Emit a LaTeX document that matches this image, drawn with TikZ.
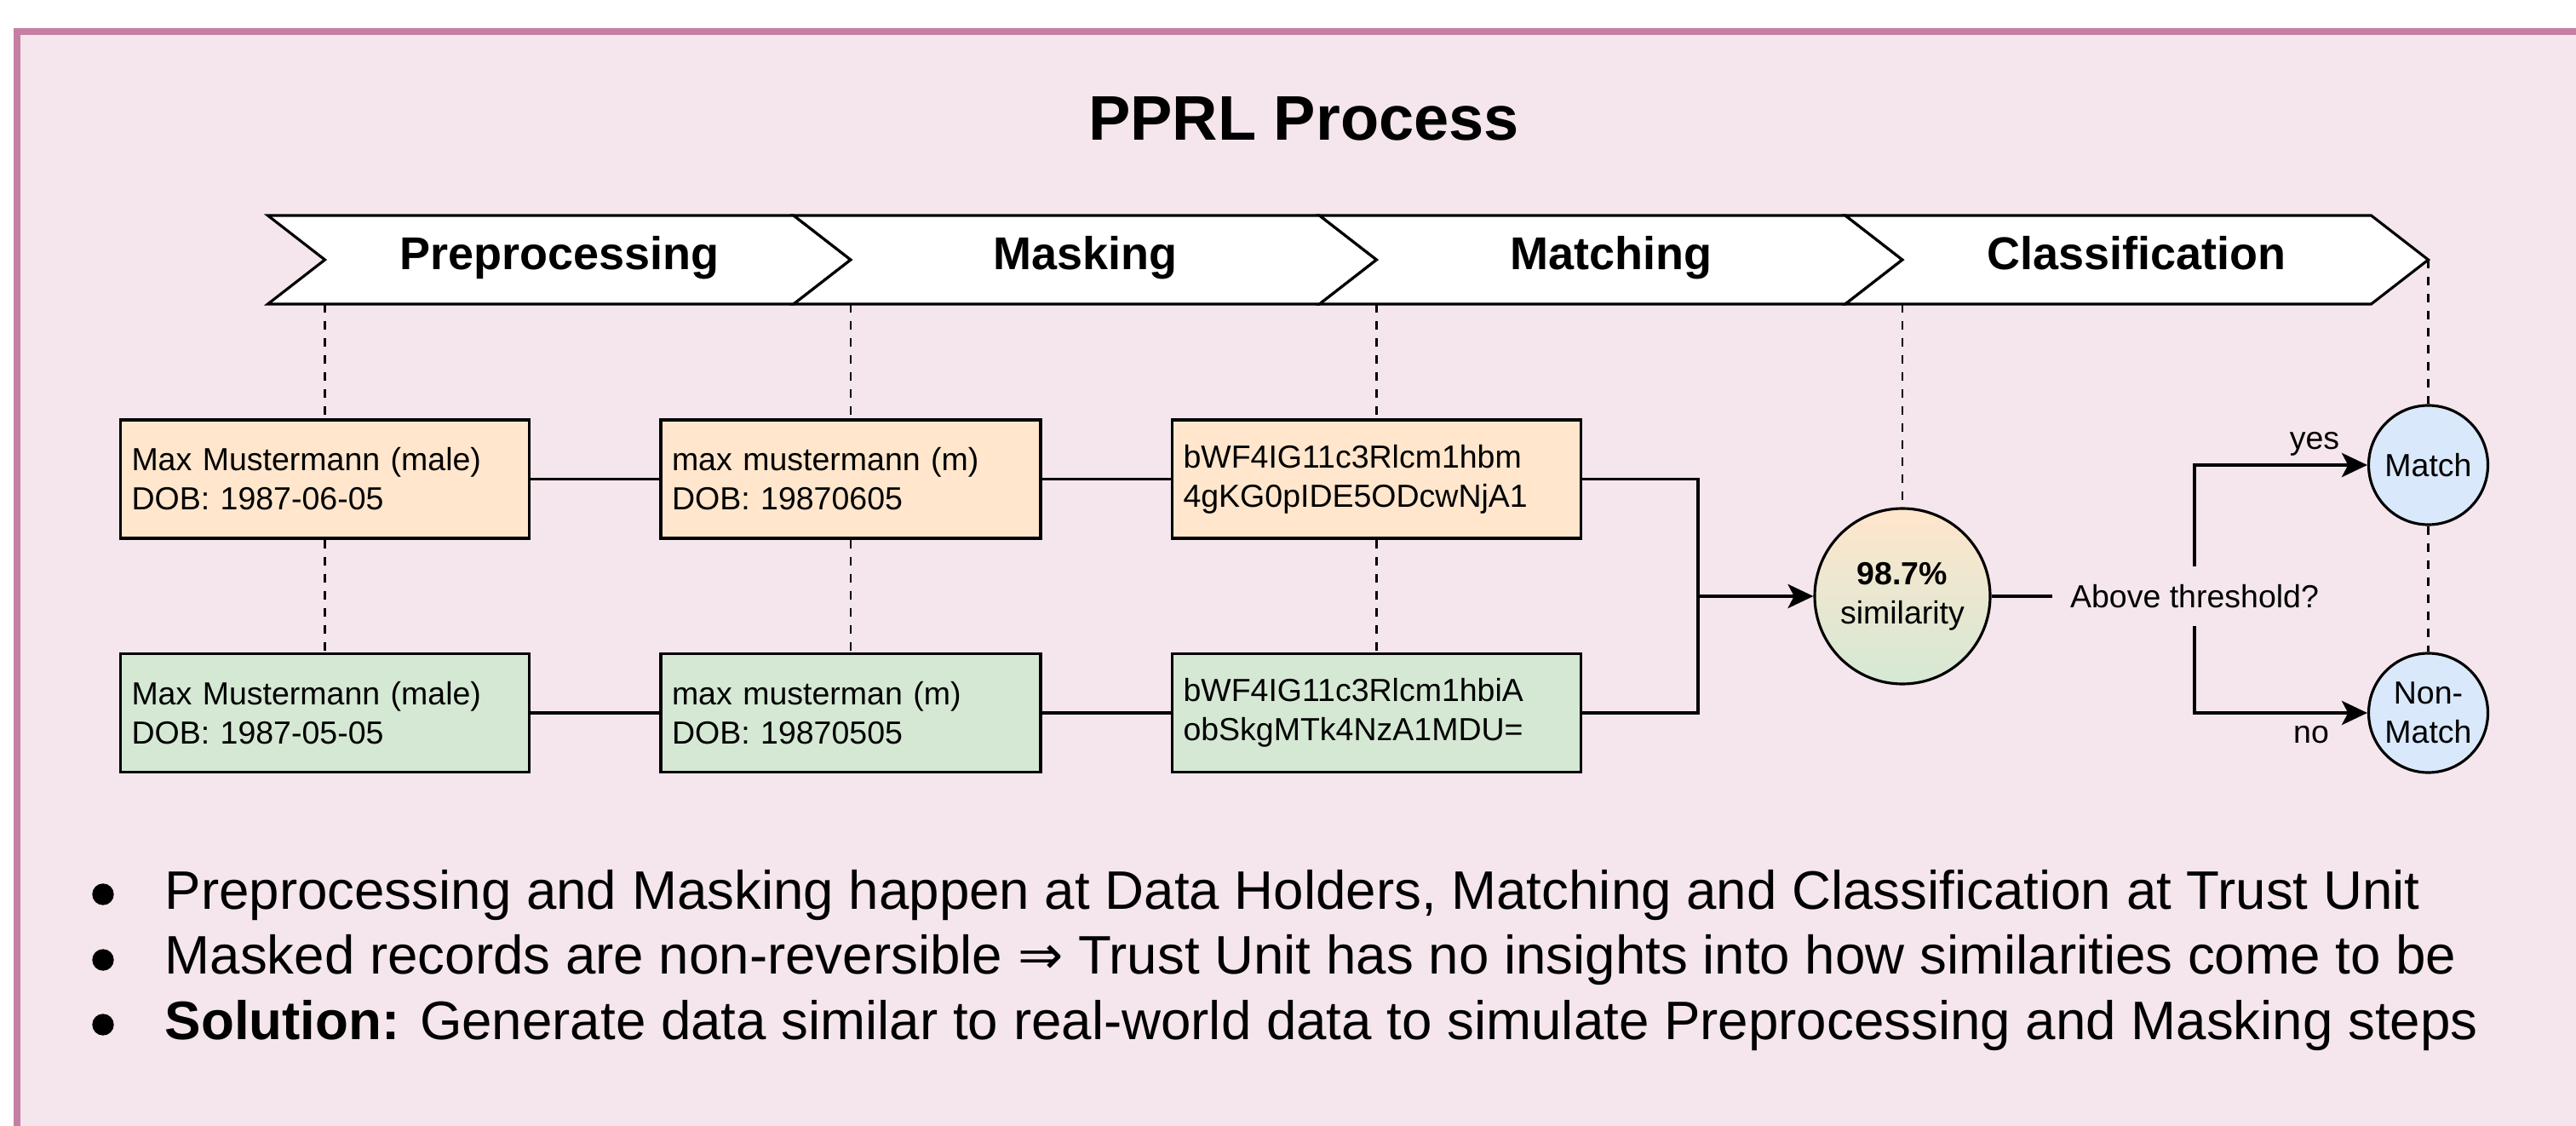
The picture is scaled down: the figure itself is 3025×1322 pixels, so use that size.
\documentclass[tikz,border=0pt]{standalone}
\usepackage{fontspec}
\setmainfont{Liberation Sans}
\newfontfamily\dejavu{DejaVu Sans}
\usetikzlibrary{arrows.meta}
\definecolor{cFrame}{HTML}{C47FA2}
\definecolor{cBack}{HTML}{F4E6EC}
\definecolor{cOrange}{HTML}{FFE6CC}
\definecolor{cGreen}{HTML}{D5E8D4}
\definecolor{cBlue}{HTML}{DAE8FC}
\newcommand{\boxfont}{\fontsize{11.25pt}{13.8pt}\selectfont}
\tikzset{
  chev/.style={draw=black, fill=white, line width=0.95pt, line join=miter},
  chevlabel/.style={anchor=base, inner sep=0pt, font=\fontsize{16.2pt}{19pt}\selectfont\bfseries},
  rec/.style={draw=black, line width=0.95pt, minimum height=41.7pt, align=left, inner xsep=3.9pt, font=\boxfont},
  wide/.style={text width=136.2pt},
  narrow/.style={text width=126pt},
  orng/.style={fill=cOrange},
  grn/.style={fill=cGreen},
  conn/.style={draw=black, line width=0.95pt},
  arr/.style={conn, -{Stealth[length=9pt,width=8.5pt,inset=2.2pt]}},
  dsh/.style={draw=black, line width=0.85pt, dash pattern=on 3pt off 3pt},
  bigcirc/.style={circle, draw=black, line width=0.95pt, minimum size=61.8pt, inner sep=0pt, align=center, font=\boxfont},
  smallcirc/.style={circle, draw=black, line width=0.95pt, fill=cBlue, minimum size=42pt, inner sep=0pt, align=center, font=\boxfont},
  plain/.style={inner sep=0pt, font=\boxfont},
  bullettext/.style={anchor=base west, inner sep=0pt, font=\fontsize{19.1pt}{23pt}\selectfont},
  bulletdot/.style={circle, fill=black, inner sep=0pt, minimum size=7.6pt},
}
\begin{document}
\begin{tikzpicture}[x=0.3pt,y=-0.3pt]
\useasboundingbox (0,0) rectangle (3025,1322);
\fill[white] (0,0) rectangle (3025,1322);
\begin{scope}
\clip (0,0) rectangle (3025,1322);
\draw[draw=cFrame, fill=cBack, line width=2.4pt] (20,37.5) rectangle (3200,1500);
\end{scope}

% title
\node[inner sep=0pt, font=\fontsize{22.2pt}{26pt}\selectfont\bfseries] (title) at (1531,139) {PPRL Process};

% chevrons
\draw[chev] (314.5,253) -- (932,253) -- (999,305) -- (932,357) -- (314.5,357) -- (381.5,305) -- cycle;
\draw[chev] (932,253) -- (1549.5,253) -- (1616.5,305) -- (1549.5,357) -- (932,357) -- (999,305) -- cycle;
\draw[chev] (1549.5,253) -- (2167,253) -- (2234,305) -- (2167,357) -- (1549.5,357) -- (1616.5,305) -- cycle;
\draw[chev] (2167,253) -- (2784.5,253) -- (2851.5,305) -- (2784.5,357) -- (2167,357) -- (2234,305) -- cycle;
\node[chevlabel] (l1) at (656.75,317) {Preprocessing};
\node[chevlabel] (l2) at (1274.25,317) {Masking};
\node[chevlabel] (l3) at (1891.75,317) {Matching};
\node[chevlabel] (l4) at (2509.25,317) {Classification};
\coordinate (c1) at (381.5,357);
\coordinate (c2) at (999,357);
\coordinate (c3) at (1616.5,357);
\coordinate (c4) at (2234,357);
\coordinate (c5) at (2851.5,305);

% boxes
\node[rec, wide, orng] (b1o) at (381.5,562.5) {Max Mustermann (male)\\DOB: 1987-06-05};
\node[rec, narrow, orng] (b2o) at (999,562.5) {max mustermann (m)\\DOB: 19870605};
\node[rec, wide, orng] (b3o) at (1616.5,562.5) {bWF4IG11c3Rlcm1hbm\\4gKG0pIDE5ODcwNjA1};
\node[rec, wide, grn] (b1g) at (381.5,837) {Max Mustermann (male)\\DOB: 1987-05-05};
\node[rec, narrow, grn] (b2g) at (999,837) {max musterman (m)\\DOB: 19870505};
\node[rec, wide, grn] (b3g) at (1616.5,837) {bWF4IG11c3Rlcm1hbiA\\obSkgMTk4NzA1MDU=};

% similarity and classification
\node[bigcirc, top color=cOrange, bottom color=cGreen] (sim) at (2234,700) {\textbf{98.7\%}\\similarity};
\node[plain, inner xsep=6pt, minimum height=20.4pt] (thr) at (2577,700) {Above threshold?};
\node[smallcirc] (match) at (2851.5,546) {Match};
\node[smallcirc] (nonmatch) at (2851.5,837) {Non-\\Match};
\node[plain, anchor=base] (yes) at (2718,528) {yes};
\node[plain, anchor=base] (no) at (2714,872) {no};
\coordinate (j) at (1994,700);

% dashed guides
\draw[dsh] (c1) -- (b1o.north);
\draw[dsh] (c2) -- (b2o.north);
\draw[dsh] (c3) -- (b3o.north);
\draw[dsh] (c4) -- (sim.north);
\draw[dsh] (c5) -- (match.north);
\draw[dsh] (b1o.south) -- (b1g.north);
\draw[dsh] (b2o.south) -- (b2g.north);
\draw[dsh] (b3o.south) -- (b3g.north);
\draw[dsh] (match.south) -- (nonmatch.north);

% connectors
\draw[conn] (b1o.east) -- (b2o.west);
\draw[conn] (b2o.east) -- (b3o.west);
\draw[conn] (b1g.east) -- (b2g.west);
\draw[conn] (b2g.east) -- (b3g.west);
\draw[conn] (b3o.east) -| (j) |- (b3g.east);
\draw[arr] (j) -- (sim.west);
\draw[conn] (sim.east) -- (thr.west);
\draw[arr] (thr.north) |- (match.west);
\draw[arr] (thr.south) |- (nonmatch.west);

% bullets
\node[bulletdot] (d1) at (121,1050) {};
\node[bulletdot] (d2) at (121,1127) {};
\node[bulletdot] (d3) at (121,1203) {};
\node[bullettext] (t1) at (193,1067) {Preprocessing and Masking happen at Data Holders, Matching and Classification at Trust Unit};
\node[bullettext] (t2) at (193,1143) {Masked records are non-reversible {\dejavu ⇒} Trust Unit has no insights into how similarities come to be};
\node[bullettext] (t3) at (193,1220) {\textbf{Solution:} Generate data similar to real-world data to simulate Preprocessing and Masking steps};
\end{tikzpicture}
\end{document}
